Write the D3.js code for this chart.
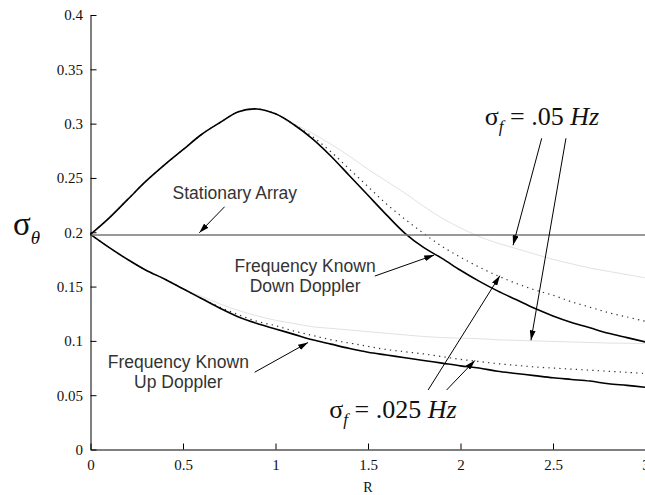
<!DOCTYPE html>
<html>
<head>
<meta charset="utf-8">
<script src="https://cdn.jsdelivr.net/npm/d3@7"></script>
<style>
  html, body { margin: 0; padding: 0; background: #fff; }
  svg { display: block; }
</style>
</head>
<body>
<svg id="chart" width="645" height="495"></svg>
<script>
// Range ratio R sampled along the curves
const rGrid = [0, 0.1, 0.2, 0.3, 0.4, 0.5, 0.6, 0.7, 0.8, 0.9, 1.0,
               1.1, 1.2, 1.3, 1.4, 1.5, 1.6, 1.7, 1.8, 1.9, 2.0,
               2.1, 2.2, 2.3, 2.4, 2.5, 2.6, 2.7, 2.8, 2.9, 3.0];

// Bearing error, down-Doppler leg
const downKnown = [0.198, 0.213, 0.230, 0.247, 0.262, 0.276, 0.290, 0.301, 0.311, 0.3135, 0.309,
                   0.299, 0.286, 0.270, 0.252, 0.234, 0.216, 0.199, 0.186, 0.176, 0.165,
                   0.155, 0.146, 0.138, 0.130, 0.123, 0.117, 0.112, 0.107, 0.103, 0.099];
const downSigma025 = [0.198, 0.213, 0.230, 0.247, 0.262, 0.276, 0.290, 0.301, 0.311, 0.3135, 0.309,
                      0.299, 0.288, 0.274, 0.258, 0.242, 0.226, 0.212, 0.199, 0.187, 0.177,
                      0.168, 0.160, 0.153, 0.147, 0.142, 0.136, 0.131, 0.126, 0.122, 0.118];
const downSigma05 = [0.198, 0.213, 0.230, 0.247, 0.262, 0.276, 0.290, 0.301, 0.311, 0.3135, 0.309,
                     0.300, 0.291, 0.281, 0.270, 0.258, 0.247, 0.236, 0.224, 0.213, 0.204,
                     0.196, 0.190, 0.185, 0.180, 0.175, 0.171, 0.167, 0.164, 0.161, 0.158];

// Bearing error, up-Doppler leg
const upKnown = [0.198, 0.186, 0.175, 0.165, 0.157, 0.148, 0.139, 0.130, 0.122, 0.116, 0.111,
                 0.106, 0.101, 0.097, 0.093, 0.0895, 0.087, 0.0845, 0.082, 0.0795, 0.077,
                 0.075, 0.072, 0.070, 0.068, 0.066, 0.0645, 0.063, 0.0605, 0.059, 0.0573];
const upSigma025 = [0.198, 0.186, 0.175, 0.165, 0.157, 0.148, 0.139, 0.131, 0.124, 0.118, 0.114,
                    0.109, 0.105, 0.101, 0.098, 0.095, 0.092, 0.090, 0.088, 0.0855, 0.083,
                    0.081, 0.079, 0.0775, 0.076, 0.075, 0.074, 0.073, 0.072, 0.071, 0.070];
const upSigma05 = [0.198, 0.186, 0.175, 0.165, 0.157, 0.148, 0.141, 0.134, 0.128, 0.123, 0.119,
                   0.116, 0.113, 0.1115, 0.110, 0.1085, 0.107, 0.1055, 0.104, 0.103, 0.1025,
                   0.102, 0.101, 0.1005, 0.100, 0.0995, 0.099, 0.0985, 0.098, 0.0978, 0.0975];

// Stationary array reference level
const stationaryR = [0, 3];
const stationarySigma = [0.1975, 0.1975];

// Axis ticks
const xTicks = [0, 0.5, 1, 1.5, 2, 2.5, 3];
const xTickLabels = ["0", "0.5", "1", "1.5", "2", "2.5", "3"];
const yTicks = [0, 0.05, 0.1, 0.15, 0.2, 0.25, 0.3, 0.35, 0.4];
const yTickLabels = ["0", "0.05", "0.1", "0.15", "0.2", "0.25", "0.3", "0.35", "0.4"];

const svg = d3.select("#chart");
svg.append("rect").attr("width", 645).attr("height", 495).attr("fill", "#fff");

const x = d3.scaleLinear().domain([0, 3]).range([90.5, 645.5]);
const y = d3.scaleLinear().domain([0, 0.4]).range([449.5, 15]);

const line = d3.line()
  .x(d => x(d[0]))
  .y(d => y(d[1]))
  .curve(d3.curveCatmullRom.alpha(0.5));

const pairs = vals => rGrid.map((r, i) => [r, vals[i]]);

const series = [
  { vals: downSigma05, stroke: "#e2e2e2", width: 1, dash: null },
  { vals: upSigma05, stroke: "#e2e2e2", width: 1, dash: null },
  { vals: downSigma025, stroke: "#333", width: 1.2, dash: "1.3,4.2" },
  { vals: upSigma025, stroke: "#333", width: 1.2, dash: "1.3,4.2" },
  { vals: downKnown, stroke: "#000", width: 1.6, dash: null },
  { vals: upKnown, stroke: "#000", width: 1.6, dash: null }
];

const plot = svg.append("g");
series.forEach(s => {
  plot.append("path")
    .datum(pairs(s.vals))
    .attr("d", line)
    .attr("fill", "none")
    .attr("stroke", s.stroke)
    .attr("stroke-width", s.width)
    .attr("stroke-dasharray", s.dash);
});

plot.append("path")
  .datum(stationaryR.map((r, i) => [r, stationarySigma[i]]))
  .attr("d", d3.line().x(d => x(d[0])).y(d => y(d[1])))
  .attr("fill", "none")
  .attr("stroke", "#777")
  .attr("stroke-width", 1.6);

// Axes with inward ticks, serif labels
const xAxis = d3.axisBottom(x).tickValues(xTicks)
  .tickFormat((d, i) => xTickLabels[i]).tickSizeInner(-6).tickSizeOuter(0).tickPadding(10);
const yAxis = d3.axisLeft(y).tickValues(yTicks)
  .tickFormat((d, i) => yTickLabels[i]).tickSizeInner(-6).tickSizeOuter(0).tickPadding(7.5);

const gx = svg.append("g").attr("transform", "translate(0,449.5)").call(xAxis);
const gy = svg.append("g").attr("transform", "translate(90.5,0)").call(yAxis);
[gx, gy].forEach(g => {
  g.select(".domain").attr("stroke", "#000").attr("stroke-width", 1);
  g.selectAll(".tick line").attr("stroke", "#000");
  g.selectAll(".tick text")
    .attr("fill", "#111")
    .style("font-family", "'Liberation Serif', 'Times New Roman', serif")
    .style("font-size", "15px");
});

// Axis titles
svg.append("text")
  .attr("x", x(1.5)).attr("y", 492)
  .attr("text-anchor", "middle")
  .style("font-family", "'Liberation Serif', 'Times New Roman', serif")
  .style("font-size", "14px")
  .attr("fill", "#111")
  .text("R");

const yTitle = svg.append("text")
  .attr("x", 13).attr("y", 235)
  .style("font-family", "'Liberation Serif', 'Times New Roman', serif")
  .attr("fill", "#111");
yTitle.append("tspan").style("font-size", "33px").text("σ");
yTitle.append("tspan").attr("dy", 9).style("font-size", "19px").style("font-style", "italic").text("θ");

// Arrow annotations, anchored in data space
const defs = svg.append("defs");
defs.append("marker")
  .attr("id", "head")
  .attr("viewBox", "0 0 10 6")
  .attr("refX", 10).attr("refY", 3)
  .attr("markerWidth", 10).attr("markerHeight", 6)
  .attr("markerUnits", "userSpaceOnUse")
  .attr("orient", "auto")
  .append("path").attr("d", "M0,0 L10,3 L0,6 Z").attr("fill", "#000");

const arrows = [
  { from: [0.725, 0.2235], to: [0.588, 0.1995] },  // stationary array
  { from: [1.537, 0.1597], to: [1.858, 0.1790] },  // down doppler, known
  { from: [0.887, 0.0711], to: [1.176, 0.0985] },  // up doppler, known
  { from: [1.825, 0.0548], to: [2.213, 0.1600] },  // sigma .025 down
  { from: [1.925, 0.0548], to: [2.078, 0.0820] },  // sigma .025 up
  { from: [2.439, 0.2865], to: [2.284, 0.1880] },  // sigma .05 down
  { from: [2.570, 0.2865], to: [2.381, 0.1005] }   // sigma .05 up
];
const ann = svg.append("g");
arrows.forEach(a => {
  ann.append("line")
    .attr("x1", x(a.from[0])).attr("y1", y(a.from[1]))
    .attr("x2", x(a.to[0])).attr("y2", y(a.to[1]))
    .attr("stroke", "#000").attr("stroke-width", 1)
    .attr("marker-end", "url(#head)");
});

// Curve labels
const sans = "'Liberation Sans', Arial, sans-serif";
const labels = [
  { lines: ["Stationary Array"], at: [0.78, 0.2306] },
  { lines: ["Frequency Known", "Down Doppler"], at: [1.16, 0.1630] },
  { lines: ["Frequency Known", "Up Doppler"], at: [0.475, 0.0750] }
];
labels.forEach(l => {
  l.lines.forEach((t, i) => {
    ann.append("text")
      .attr("x", x(l.at[0])).attr("y", y(l.at[1]) + i * 20)
      .attr("text-anchor", "middle")
      .style("font-family", sans).style("font-size", "17.5px")
      .attr("fill", "#333")
      .text(t);
  });
});

// Frequency uncertainty labels
function sigmaLabel(cx, cy, value) {
  const t = ann.append("text")
    .attr("x", x(cx)).attr("y", y(cy))
    .attr("text-anchor", "middle")
    .style("font-family", "'Liberation Serif', 'Times New Roman', serif")
    .style("font-size", "26px")
    .attr("fill", "#111");
  t.append("tspan").text("σ");
  t.append("tspan").attr("dy", 7).style("font-size", "17px").style("font-style", "italic").text("f");
  t.append("tspan").attr("dy", -7).text(" = " + value + " ");
  t.append("tspan").style("font-style", "italic").text("Hz");
}
sigmaLabel(1.635, 0.0290, ".025");
sigmaLabel(2.440, 0.2985, ".05");
</script>
</body>
</html>
